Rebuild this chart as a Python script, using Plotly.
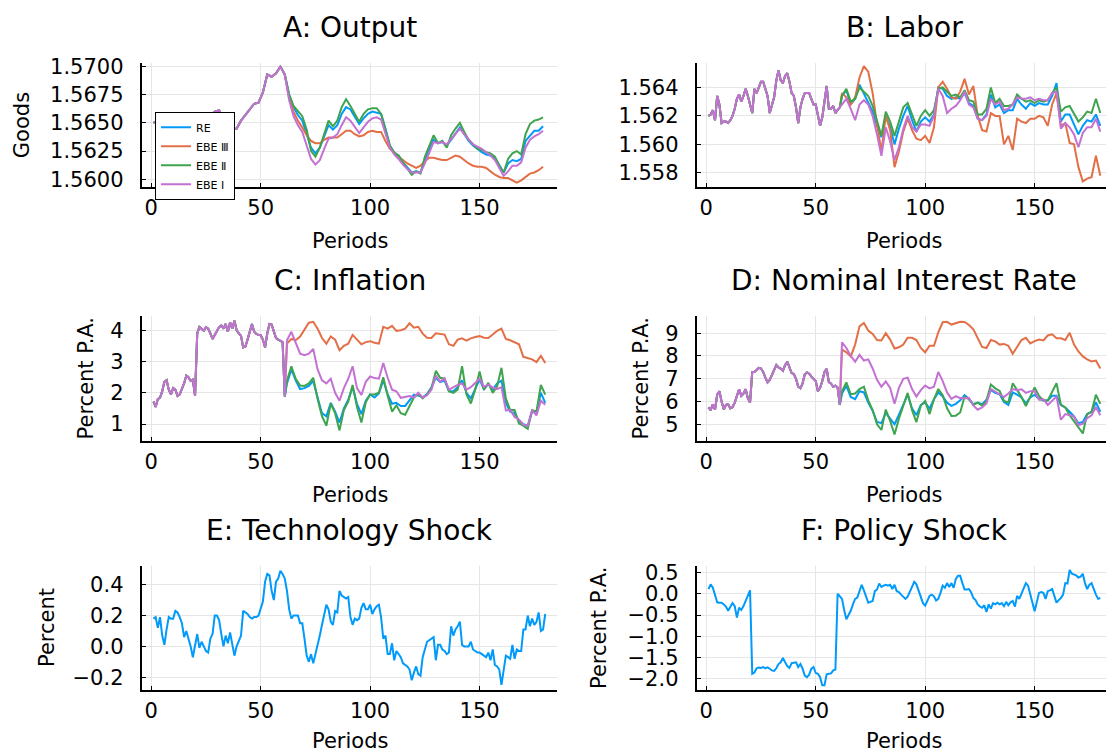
import plotly.graph_objects as go

# ---------------- data ----------------
SERIES = ["RE", "EBE Ⅲ", "EBE Ⅱ", "EBE Ⅰ"]
COLORS = ["#009AFA", "#E36F47", "#3EA44E", "#C371D2"]

# A: Output (odd periods 1..179); common path up to period 61, then one path per model
output_periods = list(range(1, 180, 2))
output_head = [1.5650, 1.5652, 1.5649, 1.5646, 1.5648, 1.5652, 1.5654, 1.5651, 1.5648, 1.5646,
               1.5648, 1.5651, 1.5654, 1.5656, 1.5660, 1.5661, 1.5654, 1.5647, 1.5644, 1.5645,
               1.5652, 1.5657, 1.5663, 1.5667, 1.5668, 1.5677, 1.5693, 1.5691, 1.5694, 1.5700,
               1.5693]
output_re = [1.5675, 1.5664, 1.5657, 1.5652, 1.5640, 1.5628, 1.5623, 1.5628, 1.5638, 1.5648,
             1.5644, 1.5648, 1.5658, 1.5664, 1.5662, 1.5655, 1.5649, 1.5654, 1.5658, 1.5660,
             1.5659, 1.5658, 1.5645, 1.5630, 1.5624, 1.5621, 1.5615, 1.5610, 1.5606, 1.5607,
             1.5606, 1.5617, 1.5627, 1.5635, 1.5632, 1.5633, 1.5630, 1.5635, 1.5641, 1.5646,
             1.5640, 1.5634, 1.5630, 1.5627, 1.5624, 1.5622, 1.5621, 1.5619, 1.5612, 1.5606,
             1.5614, 1.5617, 1.5616, 1.5618, 1.5634, 1.5639, 1.5643, 1.5643, 1.5647]
output_ebe3 = [1.5672, 1.5660, 1.5652, 1.5646, 1.5639, 1.5634, 1.5632, 1.5632, 1.5635, 1.5637,
               1.5637, 1.5637, 1.5640, 1.5643, 1.5643, 1.5640, 1.5638, 1.5639, 1.5642, 1.5643,
               1.5642, 1.5642, 1.5634, 1.5627, 1.5624, 1.5620, 1.5617, 1.5614, 1.5612, 1.5610,
               1.5612, 1.5616, 1.5619, 1.5619, 1.5618, 1.5617, 1.5617, 1.5619, 1.5621, 1.5620,
               1.5617, 1.5614, 1.5612, 1.5611, 1.5611, 1.5610, 1.5607, 1.5604, 1.5602, 1.5601,
               1.5601, 1.5599, 1.5597, 1.5599, 1.5602, 1.5605, 1.5606, 1.5608, 1.5611]
output_ebe2 = [1.5675, 1.5665, 1.5660, 1.5656, 1.5644, 1.5625, 1.5620, 1.5628, 1.5640, 1.5652,
               1.5647, 1.5652, 1.5664, 1.5671, 1.5665, 1.5658, 1.5651, 1.5658, 1.5662, 1.5663,
               1.5663, 1.5658, 1.5645, 1.5630, 1.5623, 1.5621, 1.5615, 1.5609, 1.5604, 1.5607,
               1.5605, 1.5620, 1.5630, 1.5639, 1.5632, 1.5634, 1.5628, 1.5639, 1.5645, 1.5650,
               1.5642, 1.5635, 1.5631, 1.5627, 1.5626, 1.5624, 1.5623, 1.5620, 1.5612, 1.5606,
               1.5618, 1.5623, 1.5625, 1.5622, 1.5640, 1.5649, 1.5652, 1.5653, 1.5655]
output_ebe1 = [1.5670, 1.5656, 1.5648, 1.5642, 1.5630, 1.5618, 1.5613, 1.5617, 1.5627, 1.5636,
               1.5637, 1.5640, 1.5648, 1.5655, 1.5652, 1.5646, 1.5641, 1.5646, 1.5651, 1.5654,
               1.5655, 1.5653, 1.5640, 1.5628, 1.5622, 1.5618, 1.5613, 1.5609, 1.5606, 1.5606,
               1.5606, 1.5614, 1.5623, 1.5633, 1.5632, 1.5633, 1.5631, 1.5636, 1.5641, 1.5645,
               1.5640, 1.5635, 1.5631, 1.5629, 1.5627, 1.5624, 1.5621, 1.5617, 1.5610, 1.5603,
               1.5607, 1.5612, 1.5612, 1.5615, 1.5628, 1.5635, 1.5638, 1.5640, 1.5643]

# B, C, D: common path for periods 1..61, model paths on even periods 62..180
head_periods = list(range(1, 62))
tail_periods = list(range(62, 181, 2))

labor_head = [1.5620, 1.5621, 1.5624, 1.5617, 1.5634, 1.5628, 1.5615, 1.5616, 1.5616, 1.5615,
              1.5617, 1.5620, 1.5625, 1.5632, 1.5635, 1.5630, 1.5634, 1.5639, 1.5634, 1.5627,
              1.5622, 1.5639, 1.5636, 1.5640, 1.5644, 1.5644, 1.5638, 1.5634, 1.5622, 1.5628,
              1.5633, 1.5645, 1.5652, 1.5645, 1.5643, 1.5648, 1.5650, 1.5644, 1.5636, 1.5634,
              1.5626, 1.5615, 1.5626, 1.5632, 1.5636, 1.5636, 1.5636, 1.5632, 1.5628, 1.5628,
              1.5619, 1.5613, 1.5619, 1.5630, 1.5641, 1.5625, 1.5625, 1.5627, 1.5622, 1.5624,
              1.5626]
labor_re = [1.5634, 1.5638, 1.5628, 1.5632, 1.5642, 1.5636, 1.5630, 1.5623, 1.5613, 1.5605,
            1.5620, 1.5612, 1.5600, 1.5611, 1.5620, 1.5627, 1.5617, 1.5609, 1.5616, 1.5619,
            1.5616, 1.5621, 1.5640, 1.5639, 1.5634, 1.5632, 1.5633, 1.5632, 1.5636, 1.5629,
            1.5627, 1.5618, 1.5617, 1.5621, 1.5635, 1.5626, 1.5628, 1.5622, 1.5624, 1.5624,
            1.5632, 1.5628, 1.5625, 1.5629, 1.5627, 1.5629, 1.5628, 1.5628, 1.5634, 1.5643,
            1.5616, 1.5621, 1.5621, 1.5614, 1.5607, 1.5613, 1.5617, 1.5616, 1.5621, 1.5613]
labor_ebe3 = [1.5636, 1.5633, 1.5628, 1.5633, 1.5647, 1.5655, 1.5651, 1.5636, 1.5614, 1.5595,
              1.5620, 1.5610, 1.5584, 1.5595, 1.5609, 1.5618, 1.5610, 1.5604, 1.5603, 1.5606,
              1.5601, 1.5612, 1.5640, 1.5644, 1.5639, 1.5633, 1.5632, 1.5637, 1.5646, 1.5635,
              1.5641, 1.5620, 1.5610, 1.5609, 1.5622, 1.5620, 1.5620, 1.5600, 1.5606, 1.5596,
              1.5618, 1.5616, 1.5615, 1.5618, 1.5618, 1.5620, 1.5619, 1.5613, 1.5628, 1.5636,
              1.5613, 1.5615, 1.5601, 1.5600, 1.5584, 1.5574, 1.5576, 1.5577, 1.5592, 1.5578]
labor_ebe2 = [1.5634, 1.5639, 1.5630, 1.5632, 1.5640, 1.5637, 1.5634, 1.5627, 1.5616, 1.5606,
              1.5623, 1.5616, 1.5606, 1.5616, 1.5626, 1.5629, 1.5621, 1.5613, 1.5620, 1.5624,
              1.5620, 1.5624, 1.5639, 1.5640, 1.5637, 1.5634, 1.5635, 1.5633, 1.5638, 1.5631,
              1.5630, 1.5621, 1.5621, 1.5625, 1.5640, 1.5629, 1.5632, 1.5627, 1.5627, 1.5628,
              1.5635, 1.5632, 1.5630, 1.5631, 1.5629, 1.5631, 1.5630, 1.5631, 1.5636, 1.5640,
              1.5623, 1.5626, 1.5627, 1.5621, 1.5616, 1.5619, 1.5623, 1.5622, 1.5632, 1.5622]
labor_ebe1 = [1.5628, 1.5632, 1.5625, 1.5617, 1.5628, 1.5631, 1.5628, 1.5620, 1.5607, 1.5592,
              1.5612, 1.5602, 1.5589, 1.5598, 1.5611, 1.5620, 1.5612, 1.5609, 1.5614, 1.5614,
              1.5613, 1.5620, 1.5639, 1.5634, 1.5622, 1.5625, 1.5627, 1.5631, 1.5637, 1.5628,
              1.5626, 1.5618, 1.5617, 1.5620, 1.5632, 1.5628, 1.5630, 1.5624, 1.5625, 1.5628,
              1.5633, 1.5632, 1.5632, 1.5633, 1.5631, 1.5632, 1.5631, 1.5631, 1.5636, 1.5637,
              1.5611, 1.5615, 1.5612, 1.5607, 1.5598, 1.5608, 1.5612, 1.5612, 1.5618, 1.5609]

inflation_head = [1.72, 1.55, 1.80, 1.85, 2.05, 2.35, 2.40, 2.10, 1.95, 2.15,
                  2.10, 1.90, 1.95, 2.10, 2.30, 2.55, 2.50, 2.38, 2.42, 1.90,
                  3.90, 4.10, 4.05, 3.98, 4.10, 4.05, 3.90, 3.72, 3.85, 3.98,
                  4.10, 4.15, 4.05, 4.20, 3.95, 4.25, 4.05, 4.30, 4.00, 3.90,
                  3.82, 3.45, 3.48, 3.70, 4.00, 4.20, 3.95, 3.88, 3.85, 3.84,
                  3.70, 3.45, 3.90, 4.20, 4.18, 3.95, 3.75, 3.70, 3.65, 3.62,
                  1.88]
inflation_re = [2.30, 2.75, 2.40, 2.12, 2.15, 2.22, 2.38, 1.85, 1.35, 1.25,
                1.68, 1.40, 1.05, 1.50, 1.78, 2.18, 1.65, 1.32, 1.75, 1.95,
                1.85, 1.98, 2.40, 1.96, 1.65, 1.68, 1.58, 1.58, 1.78, 1.94,
                1.91, 1.86, 1.96, 2.18, 2.48, 2.34, 2.39, 2.05, 2.05, 2.18,
                2.40, 2.00, 1.82, 2.15, 2.42, 2.12, 2.28, 2.10, 2.30, 2.39,
                1.68, 1.40, 1.35, 1.10, 1.00, 0.95, 1.40, 1.40, 2.00, 1.68]
inflation_ebe3 = [3.57, 3.72, 3.68, 3.80, 4.00, 4.24, 4.27, 4.05, 3.75, 3.57,
                  3.80, 3.70, 3.36, 3.50, 3.57, 3.85, 3.70, 3.55, 3.62, 3.65,
                  3.60, 3.57, 4.11, 4.05, 4.14, 3.98, 4.00, 4.05, 4.22, 4.08,
                  4.11, 3.89, 3.76, 3.75, 3.90, 3.89, 3.86, 3.55, 3.50, 3.70,
                  3.74, 3.67, 3.74, 3.78, 3.81, 3.76, 3.75, 3.86, 3.98, 4.05,
                  3.72, 3.68, 3.62, 3.55, 3.15, 3.12, 3.07, 2.98, 3.18, 2.95]
inflation_ebe2 = [2.39, 2.85, 2.45, 2.23, 2.22, 2.30, 2.48, 1.80, 1.25, 0.95,
                  1.65, 1.35, 0.80, 1.45, 1.72, 2.25, 1.55, 1.05, 1.70, 1.95,
                  1.95, 2.00, 2.50, 1.91, 1.40, 1.60, 1.35, 1.30, 1.58, 1.85,
                  1.96, 1.82, 1.95, 2.15, 2.70, 2.48, 2.45, 2.05, 2.00, 2.10,
                  2.85, 1.95, 1.66, 2.10, 2.68, 2.10, 2.32, 2.00, 2.20, 2.80,
                  1.82, 1.45, 1.45, 1.02, 0.95, 0.85, 1.45, 1.40, 2.25, 1.94]
inflation_ebe1 = [3.68, 3.95, 3.60, 3.25, 3.20, 3.25, 3.40, 2.75, 2.40, 2.30,
                  2.45, 2.00, 1.75, 2.15, 2.45, 2.85, 2.15, 1.93, 2.35, 2.52,
                  2.47, 2.45, 2.95, 2.48, 2.10, 2.05, 1.84, 1.86, 1.90, 1.85,
                  2.00, 1.85, 1.92, 2.10, 2.55, 2.36, 2.46, 2.10, 2.18, 2.25,
                  2.30, 2.10, 2.18, 2.30, 2.45, 2.19, 2.27, 2.17, 2.12, 2.18,
                  1.44, 1.45, 1.23, 1.15, 0.98, 0.95, 1.45, 1.28, 1.75, 1.62]

rate_head = [5.74, 5.62, 5.88, 5.65, 6.30, 6.45, 6.00, 5.66, 5.85, 5.88,
             5.70, 5.75, 5.95, 6.20, 6.54, 6.25, 6.35, 6.54, 6.15, 5.96,
             7.30, 7.30, 7.40, 7.48, 7.45, 7.30, 7.05, 6.84, 6.95, 7.15,
             7.35, 7.60, 7.50, 7.45, 7.35, 7.60, 7.75, 7.45, 7.25, 7.21,
             7.00, 6.65, 6.58, 6.80, 7.20, 7.28, 7.22, 7.10, 7.02, 6.90,
             6.45, 6.60, 6.90, 7.30, 7.43, 6.85, 6.78, 6.65, 6.70, 6.62,
             5.85]
rate_re = [6.35, 6.69, 6.20, 6.10, 6.45, 6.40, 5.95, 5.60, 5.10, 5.05,
           5.50, 5.25, 5.00, 5.42, 5.90, 6.30, 5.70, 5.40, 5.85, 5.95,
           5.70, 6.10, 6.40, 6.22, 5.95, 5.81, 5.90, 6.05, 6.28, 6.12,
           5.88, 5.95, 5.88, 6.08, 6.50, 6.38, 6.32, 5.98, 5.85, 6.40,
           6.30, 6.18, 5.92, 6.18, 6.30, 6.12, 6.05, 6.05, 6.25, 6.25,
           5.85, 5.74, 5.55, 5.35, 5.05, 5.10, 5.45, 5.55, 5.96, 5.55]
rate_ebe3 = [8.28, 8.16, 7.98, 8.50, 9.30, 9.45, 9.12, 8.97, 8.70, 8.68,
             9.00, 8.72, 8.33, 8.38, 8.50, 8.80, 8.80, 8.70, 8.35, 8.16,
             8.45, 8.45, 9.04, 9.48, 9.50, 9.38, 9.45, 9.50, 9.49, 9.36,
             9.17, 8.80, 8.40, 8.35, 8.70, 8.64, 8.50, 8.53, 8.45, 8.10,
             8.42, 8.70, 8.80, 8.55, 8.65, 8.72, 8.68, 8.90, 8.95, 8.78,
             8.78, 8.70, 9.02, 8.50, 8.20, 7.98, 7.85, 7.76, 7.80, 7.45]
rate_ebe2 = [6.45, 6.84, 6.32, 6.35, 6.55, 6.65, 6.05, 5.62, 5.00, 4.75,
             5.65, 5.15, 4.55, 5.25, 5.80, 6.38, 5.62, 5.10, 5.82, 6.03,
             5.45, 6.10, 6.55, 6.28, 5.70, 5.37, 5.38, 5.52, 6.22, 6.10,
             5.86, 5.95, 5.82, 6.03, 6.75, 6.58, 6.47, 6.03, 5.96, 6.80,
             6.50, 6.20, 5.80, 6.20, 6.62, 6.25, 6.05, 6.05, 6.40, 6.80,
             5.85, 5.74, 5.40, 5.15, 4.90, 4.60, 5.45, 5.55, 6.30, 5.90]
rate_ebe1 = [8.60, 8.35, 8.00, 7.75, 8.05, 7.80, 7.85, 7.45, 6.95, 6.65,
             6.88, 6.60, 5.90, 6.60, 7.00, 7.05, 6.55, 6.22, 6.50, 6.70,
             6.58, 6.65, 7.30, 6.90, 6.40, 6.12, 6.24, 6.15, 6.15, 6.16,
             5.83, 5.64, 5.74, 5.92, 6.55, 6.45, 6.32, 6.20, 6.35, 6.55,
             6.50, 6.54, 6.38, 6.45, 6.45, 6.08, 6.10, 5.85, 6.05, 6.22,
             5.20, 5.45, 5.40, 5.35, 4.97, 5.02, 5.27, 5.40, 5.76, 5.40]

# E, F: shocks, periods 1..180
shock_periods = list(range(1, 181))
tech_shock = [0.18, 0.19, 0.12, 0.19, 0.07, 0.01, 0.11, 0.19, 0.18, 0.18,
              0.23, 0.22, 0.19, 0.15, 0.06, 0.10, 0.05, 0.00, -0.07, 0.00,
              0.08, -0.01, 0.03, 0.00, -0.03, -0.04, 0.05, 0.08, 0.20, 0.20,
              0.17, 0.08, 0.00, 0.07, 0.02, 0.09, 0.00, -0.06, 0.00, 0.03,
              0.07, 0.23, 0.22, 0.21, 0.19, 0.18, 0.19, 0.19, 0.20, 0.24,
              0.29, 0.42, 0.47, 0.46, 0.36, 0.30, 0.42, 0.44, 0.49, 0.47,
              0.44, 0.36, 0.24, 0.18, 0.20, 0.20, 0.20, 0.15, 0.15, 0.05,
              -0.06, -0.10, -0.05, -0.11, -0.05, -0.01, 0.07, 0.14, 0.20, 0.27,
              0.24, 0.16, 0.14, 0.23, 0.22, 0.36, 0.33, 0.32, 0.31, 0.32,
              0.19, 0.14, 0.18, 0.17, 0.18, 0.25, 0.28, 0.24, 0.24, 0.27,
              0.21, 0.24, 0.26, 0.27, 0.19, 0.05, 0.07, -0.05, -0.05, 0.02,
              -0.09, -0.03, -0.05, -0.07, -0.11, -0.12, -0.13, -0.15, -0.22, -0.17,
              -0.13, -0.18, -0.19, -0.07, -0.01, 0.03, 0.04, 0.05, 0.06, -0.09,
              0.01, 0.01, -0.02, -0.03, -0.05, -0.04, 0.13, 0.07, 0.11, 0.13,
              0.16, 0.01, 0.00, 0.00, 0.00, 0.03, -0.02, -0.03, -0.04, -0.04,
              -0.05, -0.06, -0.07, -0.04, -0.09, -0.02, -0.12, -0.13, -0.15, -0.25,
              -0.14, -0.06, -0.07, -0.08, 0.01, -0.08, -0.02, -0.03, -0.03, 0.11,
              0.11, 0.20, 0.13, 0.18, 0.14, 0.16, 0.22, 0.10, 0.11, 0.21]
policy_shock = [0.11, 0.22, 0.14, -0.05, -0.20, -0.21, -0.21, -0.25, -0.30, -0.40,
                -0.29, -0.22, -0.29, -0.56, -0.33, -0.38, -0.29, -0.17, -0.02, 0.08,
                -1.88, -1.85, -1.75, -1.73, -1.74, -1.72, -1.75, -1.73, -1.76, -1.80,
                -1.81, -1.75, -1.65, -1.61, -1.51, -1.60, -1.70, -1.74, -1.63, -1.62,
                -1.61, -1.72, -1.65, -1.76, -1.92, -1.96, -1.90, -1.76, -1.72, -1.86,
                -1.88, -1.96, -2.15, -2.15, -1.89, -1.88, -1.87, -1.80, -1.78, 0.00,
                -0.05, -0.12, -0.38, -0.60, -0.50, -0.40, -0.25, -0.12, -0.09, 0.05,
                0.21, 0.08, -0.09, -0.21, -0.19, -0.17, 0.06, 0.10, 0.24, 0.16,
                0.19, 0.21, 0.19, 0.21, 0.11, 0.21, 0.06, 0.04, -0.02, -0.08,
                -0.12, -0.07, 0.06, 0.18, 0.28, 0.22, 0.08, -0.10, -0.22, -0.28,
                -0.17, -0.05, -0.02, -0.06, -0.16, -0.12, 0.02, 0.19, 0.14, 0.25,
                0.16, 0.25, 0.14, 0.35, 0.42, 0.42, 0.25, 0.10, 0.10, 0.11,
                0.03, -0.10, -0.15, -0.25, -0.30, -0.33, -0.27, -0.43, -0.25, -0.35,
                -0.22, -0.25, -0.21, -0.25, -0.22, -0.29, -0.19, -0.27, -0.20, -0.17,
                -0.30, -0.05, -0.12, 0.00, 0.10, 0.25, 0.19, 0.02, -0.21, -0.41,
                -0.17, 0.02, 0.04, 0.02, -0.12, 0.06, 0.08, 0.11, -0.05, -0.21,
                -0.15, -0.10, -0.02, 0.25, 0.24, 0.56, 0.47, 0.45, 0.43, 0.38,
                0.40, 0.47, 0.25, 0.11, 0.21, 0.25, 0.10, -0.02, -0.12, -0.10]

x_ticks = [0, 50, 100, 150]

# ---------------- layout helpers ----------------
W, H = 1106, 755
FONT = "DejaVu Sans"


def fx(px):
    return px / W


def fy(py):
    return 1 - py / H


LEFT = (141.7, 557.0)
RIGHT = (696.7, 1106.0)
# plot-area top/bottom of each row, in pixels from the top of the figure
ROWS = [(56.1, 182.0), (313.1, 439.7), (567.5, 692.6)]
# vertical offset of the "Periods" label below each row's plot area
PERIODS_GAP = [55, 55, 52]
LEFT_CENTER = 349.5
RIGHT_CENTER = 904.0
LEFT_XRANGE = [-4.37, 185.37]
RIGHT_XRANGE = [-4.37, 182.6]

fig = go.Figure()

panels = [
    # (col, row, y range, y ticks, y format, title, ylabel, ylabel x)
    (0, 0, [1.5593, 1.5703], [1.5600, 1.5625, 1.5650, 1.5675, 1.5700], ".4f", "A: Output", "Goods", 22),
    (1, 0, [1.5570, 1.5657], [1.558, 1.560, 1.562, 1.564], ".3f", "B: Labor", None, None),
    (0, 1, [0.47, 4.45], [1, 2, 3, 4], "d", "C: Inflation", "Percent P.A.", 86),
    (1, 1, [4.28, 9.75], [5, 6, 7, 8, 9], "d", "D: Nominal Interest Rate", "Percent P.A.", 641),
    (0, 2, [-0.28, 0.518], [-0.2, 0.0, 0.2, 0.4], ".1f", "E: Technology Shock", "Percent", 47),
    (1, 2, [-2.25, 0.64], [-2.0, -1.5, -1.0, -0.5, 0.0, 0.5], ".1f", "F: Policy Shock", "Percent P.A.", 599),
]

model_data = [
    (output_periods, output_head, [output_re, output_ebe3, output_ebe2, output_ebe1]),
    (None, labor_head, [labor_re, labor_ebe3, labor_ebe2, labor_ebe1]),
    (None, inflation_head, [inflation_re, inflation_ebe3, inflation_ebe2, inflation_ebe1]),
    (None, rate_head, [rate_re, rate_ebe3, rate_ebe2, rate_ebe1]),
]

annotations = []
layout_axes = {}

for i, (col, row, yr, yt, yfmt, title, ylabel, label_x) in enumerate(panels):
    n = i + 1
    xname = "x" if n == 1 else f"x{n}"
    yname = "y" if n == 1 else f"y{n}"
    xl, xr = LEFT if col == 0 else RIGHT
    yt_px, yb_px = ROWS[row]
    center = LEFT_CENTER if col == 0 else RIGHT_CENTER

    layout_axes["xaxis" if n == 1 else f"xaxis{n}"] = dict(
        domain=[fx(xl), fx(xr)], range=LEFT_XRANGE if col == 0 else RIGHT_XRANGE,
        anchor=yname, tickvals=x_ticks, showline=True, linecolor="black", linewidth=2,
        ticks="inside", ticklen=4, tickcolor="black", showgrid=True, gridcolor="#e6e6e6",
        gridwidth=1, zeroline=False, ticklabelstandoff=1,
        tickfont=dict(family=FONT, size=21, color="black"))
    layout_axes["yaxis" if n == 1 else f"yaxis{n}"] = dict(
        domain=[fy(yb_px), fy(yt_px)], range=yr, anchor=xname, tickvals=yt,
        tickformat=yfmt, showline=True, linecolor="black", linewidth=2,
        ticks="inside", ticklen=4, tickcolor="black", showgrid=True, gridcolor="#e6e6e6",
        gridwidth=1, zeroline=False, ticklabelstandoff=12,
        tickfont=dict(family=FONT, size=21, color="black"))

    annotations.append(dict(text=title, x=fx(center), y=fy(yt_px - 36.4), xref="paper", yref="paper",
                            xanchor="center", yanchor="middle", showarrow=False,
                            font=dict(family=FONT, size=28, color="black")))
    annotations.append(dict(text="Periods", x=fx(center), y=fy(yb_px + PERIODS_GAP[row]),
                            xref="paper", yref="paper",
                            xanchor="center", yanchor="middle", showarrow=False,
                            font=dict(family=FONT, size=21, color="black")))
    if ylabel:
        annotations.append(dict(text=ylabel, x=fx(label_x), y=fy((yt_px + yb_px) / 2),
                                xref="paper", yref="paper", xanchor="center", yanchor="middle",
                                textangle=-90, showarrow=False,
                                font=dict(family=FONT, size=21, color="black")))

    if i < 4:
        periods, head, tails = model_data[i]
        xs = periods if periods is not None else head_periods + tail_periods
        for name, color, tail in zip(SERIES, COLORS, tails):
            fig.add_trace(go.Scatter(x=xs, y=head + tail, mode="lines", name=name,
                                     line=dict(color=color, width=2),
                                     showlegend=(i == 0), xaxis=xname, yaxis=yname))
    else:
        ys = tech_shock if i == 4 else policy_shock
        fig.add_trace(go.Scatter(x=shock_periods, y=ys, mode="lines", name="shock",
                                 line=dict(color=COLORS[0], width=2), showlegend=False,
                                 xaxis=xname, yaxis=yname))

fig.update_layout(
    width=W, height=H, autosize=False,
    margin=dict(l=0, r=0, t=0, b=0),
    paper_bgcolor="white", plot_bgcolor="white",
    font=dict(family=FONT, color="black"),
    annotations=annotations,
    legend=dict(x=fx(155), y=fy(105.4), xanchor="left", yanchor="top",
                bgcolor="white", bordercolor="black", borderwidth=1,
                font=dict(family=FONT, size=11, color="black"),
                itemwidth=30, tracegroupgap=0),
    **layout_axes,
)

fig.write_html("out.html")
